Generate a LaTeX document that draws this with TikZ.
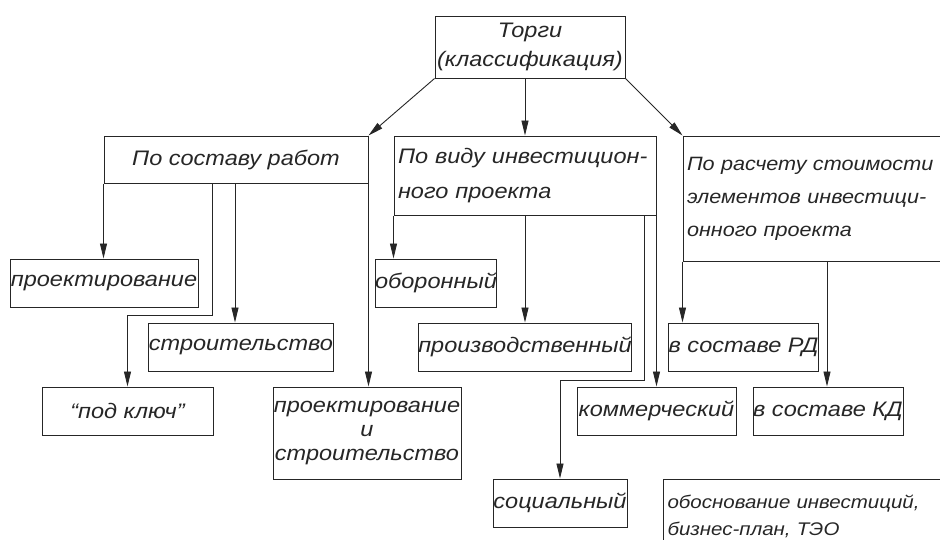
\documentclass[tikz,border=0pt]{standalone}
\usepackage{fontspec}
\setmainfont{Liberation Sans}[FakeStretch=1.12]
\usetikzlibrary{arrows.meta}
\begin{document}
\begin{tikzpicture}[x=1pt,y=-1pt,
  box/.style={draw=black!85, line width=1pt, inner sep=0pt, text=black!85,
    font=\fontsize{21}{25}\selectfont\itshape},
  arr/.style={draw=black!85, line width=0.9pt, -{Triangle[length=15pt,width=7pt]}}]
\useasboundingbox (0,0) rectangle (940,539);
% level 0
\node[box, minimum width=190pt, minimum height=62pt, align=center,
  font=\fontsize{21}{29}\selectfont\itshape] (top) at (530,47) {Торги\\(классификация)};
% level 1
\node[box, minimum width=264pt, minimum height=47pt] (sostav) at (236,159.5) {По составу работ};
\node[box, minimum width=262pt, minimum height=79pt, text width=254pt, align=left,
  font=\fontsize{21}{35}\selectfont\itshape] (vid) at (525,175.5) {По виду инвестицион-\\ного проекта};
\node[box, minimum width=317pt, minimum height=125pt, text width=309pt, align=left,
  font=\fontsize{19.3}{33}\selectfont\itshape] (raschet) at (841.5,198.5) {По расчету стоимости\\элементов инвестици-\\онного проекта};
% level 2 (sostav)
\node[box, minimum width=188pt, minimum height=48pt] (proekt) at (104,283) {проектирование};
\node[box, minimum width=182pt, minimum height=48pt] (stroit) at (241,347) {строительство};
\node[box, minimum width=171pt, minimum height=48pt] (podkluch) at (127.5,411) {“под ключ”};
\node[box, minimum width=188pt, minimum height=92pt, align=center,
  font=\fontsize{21}{24}\selectfont\itshape] (ps) at (367,433) {проектирование\\и\\строительство};
% level 2 (vid)
\node[box, minimum width=118pt, minimum height=48pt] (oboron) at (436,283) {оборонный};
\node[box, minimum width=210pt, minimum height=48pt] (proizv) at (525,347) {производственный};
\node[box, minimum width=134pt, minimum height=48pt] (social) at (560,503) {социальный};
\node[box, minimum width=159pt, minimum height=48pt] (kommer) at (656.5,411) {коммерческий};
% level 2 (raschet)
\node[box, minimum width=149pt, minimum height=48pt] (rd) at (743.5,347) {в составе РД};
\node[box, minimum width=150pt, minimum height=48pt] (kd) at (828,411) {в составе КД};
\node[box, anchor=north west, minimum width=320pt, minimum height=74pt, text width=312pt, align=left,
  font=\fontsize{18.3}{27}\selectfont\itshape] (obosn) at (663,479) {обоснование инвестиций,\\бизнес-план, ТЭО};
% connectors from top
\draw[arr] (top.south west) -- (sostav.north east);
\draw[arr] (vid.north |- top.south) -- (vid.north);
\draw[arr] (top.south east) -- (raschet.north west);
% connectors from sostav
\draw[arr] (sostav.south west) -- (sostav.south west |- proekt.north);
\draw[arr] (212,0 |- sostav.south) -- (212,315) -| (podkluch.north);
\draw[arr] (235,0 |- sostav.south) -- (235,0 |- stroit.north);
\draw[arr] (sostav.south east) -- (sostav.south east |- ps.north);
% connectors from vid
\draw[arr] (vid.south west) -- (vid.south west |- oboron.north);
\draw[arr] (vid.south) -- (proizv.north);
\draw[arr] (644,0 |- vid.south) -- (644,380) -| (social.north);
\draw[arr] (vid.south east) -- (vid.south east |- kommer.north);
% connectors from raschet
\draw[arr] (raschet.south west) -- (raschet.south west |- rd.north);
\draw[arr] (827,0 |- raschet.south) -- (827,0 |- kd.north);
\end{tikzpicture}
\end{document}
